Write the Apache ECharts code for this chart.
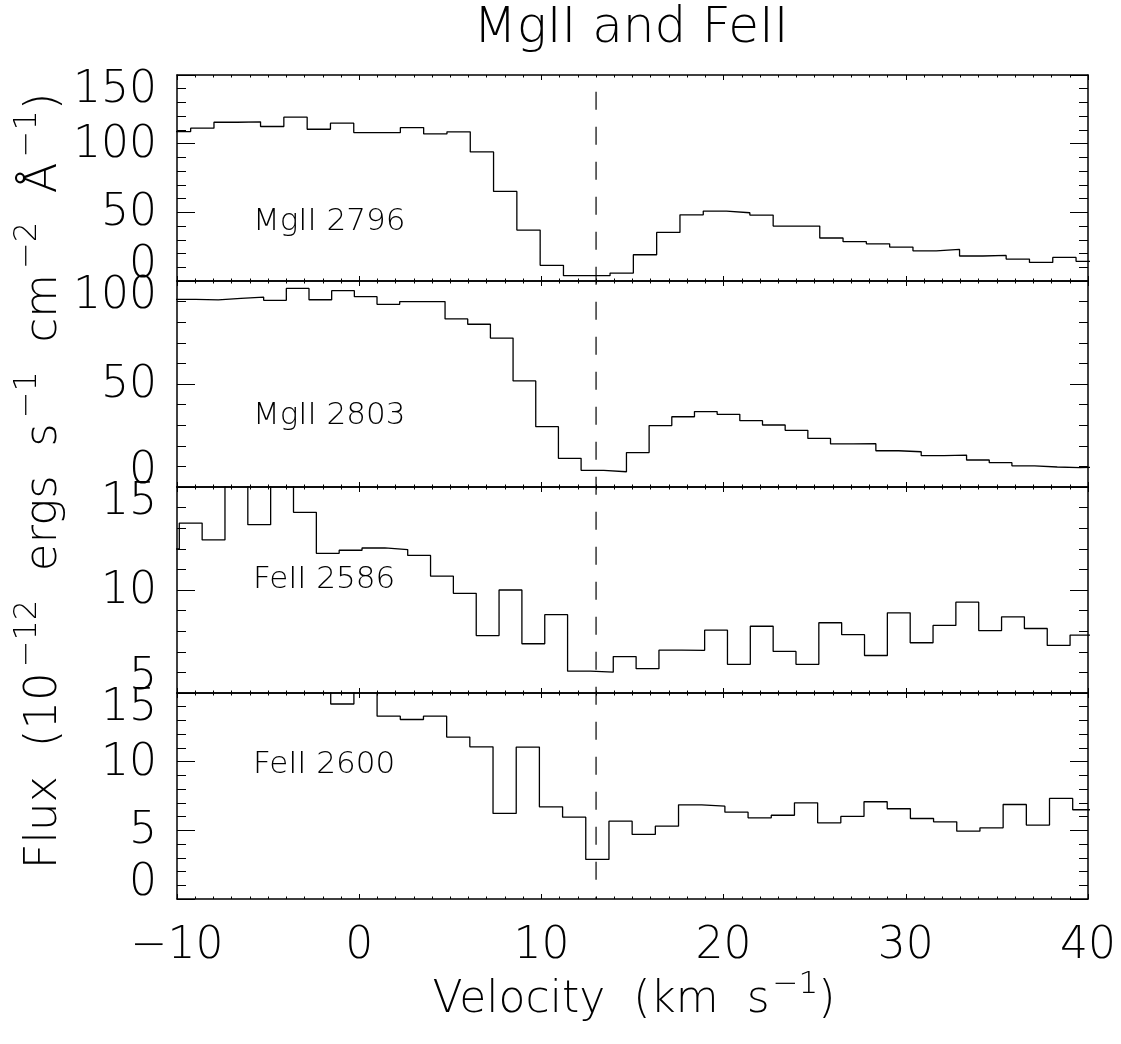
<!DOCTYPE html>
<html>
<head>
<meta charset="utf-8">
<script src="https://cdn.jsdelivr.net/npm/echarts@6/dist/echarts.min.js"></script>
<style>
  html, body { margin: 0; padding: 0; background: #ffffff; }
  #chart { width: 1121px; height: 1044px; }
</style>
</head>
<body>
<div id="chart"></div>
<script>
// Velocity bin edges (km/s) and binned flux (1e-12 erg s^-1 cm^-2 A^-1) for each line.
const edges2796 = [-10.529, -9.250, -7.971, -6.692, -5.415, -4.136, -2.856, -1.578, -0.299, 0.980,
  2.259, 3.538, 4.817, 6.096, 7.374, 8.653, 9.932, 11.211, 12.490, 13.768, 15.047, 16.326, 17.605,
  18.884, 20.162, 21.441, 22.720, 23.999, 25.278, 26.556, 27.835, 29.114, 30.393, 31.672, 32.950,
  34.229, 35.508, 36.787, 38.066, 39.344, 40.623];
const flux2796 = [108.8, 111.3, 115.6, 115.9, 112.5, 119.3, 110.5, 114.9, 108.1, 108.1, 111.7, 107.1,
  108.6, 94.0, 65.2, 37.1, 11.4, 3.9, 3.9, 5.8, 19.1, 35.4, 48.2, 50.9, 49.7, 48.0, 40.0, 40.0, 31.3,
  28.6, 27.1, 24.7, 22.0, 23.0, 18.2, 18.6, 16.0, 13.5, 17.2, 14.3];

const edges2803 = [-10.222, -8.978, -7.733, -6.489, -5.244, -4.000, -2.755, -1.511, -0.266, 0.978,
  2.223, 3.467, 4.712, 5.956, 7.201, 8.445, 9.690, 10.934, 12.179, 13.423, 14.668, 15.912, 17.157,
  18.401, 19.646, 20.890, 22.135, 23.379, 24.624, 25.868, 27.113, 28.357, 29.602, 30.846, 32.091,
  33.335, 34.580, 35.824, 37.069, 38.313, 39.558, 40.802];
const flux2803 = [91.1, 90.8, 91.6, 92.2, 90.6, 96.4, 90.9, 95.3, 92.4, 88.7, 90.0, 90.0, 81.6, 79.0,
  72.3, 51.5, 29.3, 13.9, 8.1, 7.4, 16.7, 29.8, 34.1, 36.6, 35.3, 32.2, 30.1, 27.5, 23.6, 20.9, 21.0,
  17.6, 17.1, 15.2, 15.5, 13.1, 11.8, 10.3, 9.7, 9.4, 9.7];

const edges2586 = [-11.128, -9.874, -8.620, -7.367, -6.113, -4.860, -3.606, -2.352, -1.099, 0.155,
  1.408, 2.662, 3.916, 5.169, 6.423, 7.676, 8.930, 10.184, 11.437, 12.691, 13.944, 15.198, 16.452,
  17.705, 18.959, 20.212, 21.466, 22.720, 23.973, 25.227, 26.480, 27.734, 28.988, 30.241, 31.495,
  32.748, 34.002, 35.256, 36.509, 37.763, 39.016, 40.270];
const flux2586 = [11.99, 13.25, 12.43, 16.0, 13.17, 16.0, 13.77, 11.78, 11.93, 12.04, 11.96, 11.68,
  10.67, 9.84, 7.79, 10.0, 7.39, 8.80, 6.06, 6.01, 6.77, 6.18, 7.08, 7.07, 8.05, 6.39, 8.24, 7.02,
  6.39, 8.41, 7.83, 6.82, 8.89, 7.44, 8.28, 9.41, 8.03, 8.70, 8.13, 7.31, 7.81];

const edges2600 = [-10.472, -9.199, -7.926, -6.654, -5.381, -4.109, -2.836, -1.563, -0.291, 0.982,
  2.255, 3.527, 4.800, 6.072, 7.345, 8.618, 9.890, 11.163, 12.435, 13.708, 14.980, 16.253, 17.526,
  18.798, 20.071, 21.343, 22.616, 23.889, 25.161, 26.434, 27.706, 28.979, 30.252, 31.524, 32.797,
  34.069, 35.342, 36.615, 37.887, 39.160, 40.432];
const flux2600 = [16.5, 17.0, 16.4, 17.2, 16.8, 16.2, 15.9, 14.2, 15.8, 13.31, 13.07, 13.31, 11.79,
  11.08, 6.23, 11.06, 6.71, 5.96, 2.88, 5.67, 4.70, 5.30, 6.86, 6.76, 6.32, 5.91, 6.10, 7.00, 5.55,
  6.01, 7.08, 6.57, 5.86, 5.62, 4.94, 5.18, 6.88, 5.38, 7.32, 6.50];

// Panel labels and y ranges [min, max, major interval]
const lineNames = ['MgII 2796', 'MgII 2803', 'FeII 2586', 'FeII 2600'];
const yRanges = [[0, 150, 50], [0, 100, 50], [5, 15, 5], [0, 15, 5]];
const velocityRange = [-10, 40, 10];
const markVelocity = [13];

const FONT = 'DejaVu Sans';
const FW = 200;
const INK = '#000000';

const plotLeft = 177, plotRight = 1088, panelTop = 75, panelH = 206;
const chartW = 1121;

const panelData = [
  [edges2796, flux2796], [edges2803, flux2803], [edges2586, flux2586], [edges2600, flux2600]
];

// Each bin is drawn from its left edge; a closing point carries the last level to the final edge.
function histogramPoints(edges, flux) {
  const pts = flux.map((f, i) => [edges[i], f]);
  pts.push([edges[flux.length], flux[flux.length - 1]]);
  return pts;
}

const supStyle = { fontFamily: FONT, fontWeight: FW, fontSize: 32, fill: INK, color: INK, padding: [0, 0, 32, 5] };

const grids = [], xAxes = [], yAxes = [], series = [], graphics = [];
const labelCapCenter = [222, 416, 580, 765];

lineNames.forEach((name, i) => {
  grids.push({ left: plotLeft, right: chartW - plotRight, top: panelTop + i * panelH, height: panelH });
  const [ymin, ymax, yint] = yRanges[i];
  const xBase = {
    type: 'value', gridIndex: i, min: velocityRange[0], max: velocityRange[1], interval: velocityRange[2],
    axisLine: { show: true, onZero: false, lineStyle: { color: INK, width: 1.5 } },
    axisTick: { show: true, inside: true, length: 5, lineStyle: { color: INK, width: 1 } },
    minorTick: { show: true, splitNumber: 10, length: 2.5, lineStyle: { color: INK, width: 1 } },
    splitLine: { show: false }, minorSplitLine: { show: false }
  };
  const isLast = i === lineNames.length - 1;
  xAxes.push(Object.assign({}, xBase, {
    position: 'bottom',
    axisLabel: isLast ? {
      show: true, margin: 26, fontFamily: FONT, fontWeight: FW, fontSize: 44, color: INK,
      formatter: v => String(v).replace('-', '\u2212')
    } : { show: false }
  }));
  xAxes.push(Object.assign({}, xBase, { position: 'top', axisLabel: { show: false } }));

  const yBase = {
    type: 'value', gridIndex: i, min: ymin, max: ymax, interval: yint,
    axisLine: { show: true, onZero: false, lineStyle: { color: INK, width: 1.5 } },
    axisTick: { show: true, inside: true, length: 18, lineStyle: { color: INK, width: 1 } },
    minorTick: { show: true, splitNumber: 5, length: 9, lineStyle: { color: INK, width: 1 } },
    splitLine: { show: false }, minorSplitLine: { show: false }
  };
  const tokenStyle = { fontFamily: FONT, fontWeight: FW, fontSize: 44, color: INK };
  yAxes.push(Object.assign({}, yBase, {
    position: 'left',
    axisLabel: {
      show: true, margin: 20, fontFamily: FONT, fontWeight: FW, fontSize: 44, color: INK,
      formatter: v => v === ymax ? '{hi|' + v + '}' : (v === ymin ? '{lo|' + v + '}' : '{mid|' + v + '}'),
      rich: {
        hi: Object.assign({ padding: [32, 0, 0, 0] }, tokenStyle),
        lo: Object.assign({ padding: [0, 0, 31, 0] }, tokenStyle),
        mid: Object.assign({ padding: [3, 0, 0, 0] }, tokenStyle)
      }
    }
  }));
  yAxes.push(Object.assign({}, yBase, { position: 'right', axisLabel: { show: false } }));

  const [edges, flux] = panelData[i];
  series.push({
    type: 'line', name: name, xAxisIndex: i * 2, yAxisIndex: i * 2,
    data: histogramPoints(edges, flux), step: 'end', symbol: 'none', clip: true,
    lineStyle: { color: INK, width: 1.3 }, silent: true
  });

  graphics.push({
    type: 'text', x: 253, y: labelCapCenter[i],
    style: { text: name, fontFamily: FONT, fontWeight: FW, fontSize: 31, fill: INK, align: 'left', verticalAlign: 'middle' }
  });
});

// Shared axis titles
graphics.push({
  type: 'text', x: 44, y: 481, rotation: Math.PI / 2,
  style: {
    text: 'Flux  (10{sup|\u221212}  ergs  s{sup|\u22121}  cm{sup|\u22122}  \u00c5{sup|\u22121})',
    fontFamily: FONT, fontWeight: FW, fontSize: 45, fill: INK, align: 'center', verticalAlign: 'middle',
    rich: { sup: supStyle }
  }
});
graphics.push({
  type: 'text', x: 634, y: 1001,
  style: {
    text: 'Velocity  (km  s{sup|\u22121})',
    fontFamily: FONT, fontWeight: FW, fontSize: 44, fill: INK, align: 'center', verticalAlign: 'middle',
    rich: { sup: Object.assign({}, supStyle, { fontSize: 31, padding: [0, 0, 32, 3] }) }
  }
});

// Full-height overlay carrying the dashed reference velocity across all panels
grids.push({ left: plotLeft, right: chartW - plotRight, top: panelTop, height: panelH * 4 });
xAxes.push({ type: 'value', gridIndex: 4, min: velocityRange[0], max: velocityRange[1], show: false });
yAxes.push({ type: 'value', gridIndex: 4, min: 0, max: 1, show: false });
series.push({
  type: 'line', xAxisIndex: 8, yAxisIndex: 8, symbol: 'none', silent: true,
  data: [[markVelocity[0], 1], [markVelocity[0], 0]],
  lineStyle: { color: INK, width: 1.2, type: [18, 17], dashOffset: 18.3 }
});

const chart = echarts.init(document.getElementById('chart'), null, { renderer: 'canvas' });
chart.setOption({
  animation: false,
  backgroundColor: '#ffffff',
  title: {
    text: 'MgII and FeII', left: 626, top: -1, textAlign: 'center',
    textStyle: { fontFamily: FONT, fontWeight: FW, fontSize: 50, color: INK }
  },
  grid: grids,
  xAxis: xAxes,
  yAxis: yAxes,
  series: series,
  graphic: graphics
});
</script>
</body>
</html>
